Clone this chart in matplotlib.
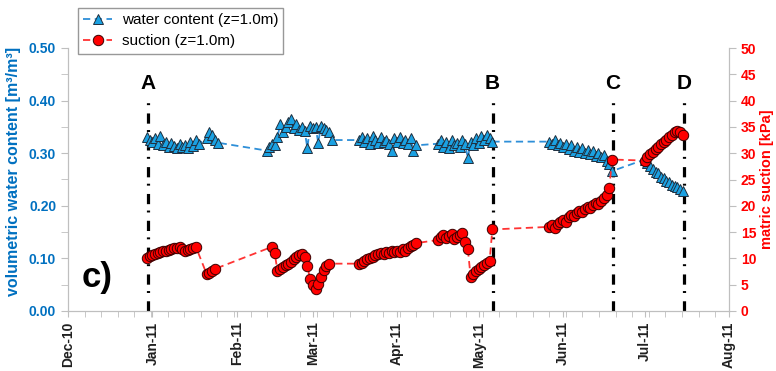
import matplotlib
matplotlib.use("Agg")
import matplotlib.pyplot as plt
import matplotlib.dates as mdates
from matplotlib.ticker import MultipleLocator, FixedLocator, FormatStrFormatter
import numpy as np
import pandas as pd

plt.rcParams['font.family'] = ['Liberation Sans', 'DejaVu Sans']

# water content at z=1.0m, daily readings per measuring period [m3/m3]
wc_starts = ['2010-12-30', '2011-01-21', '2011-02-12', '2011-03-18',
             '2011-04-16', '2011-05-27', '2011-07-01']
wc_values = [
    [0.330, 0.325, 0.322, 0.328, 0.318, 0.332, 0.315, 0.322, 0.312, 0.320,
     0.314, 0.310, 0.318, 0.312, 0.316, 0.310, 0.322, 0.314, 0.325, 0.318],
    [0.328, 0.340, 0.335, 0.325, 0.320],
    [0.305, 0.312, 0.318, 0.315, 0.330, 0.355, 0.340, 0.350, 0.360, 0.365,
     0.348, 0.355, 0.345, 0.350, 0.342, 0.310, 0.352, 0.348, 0.350, 0.320,
     0.352, 0.348, 0.345, 0.340, 0.325],
    [0.325, 0.330, 0.322, 0.328, 0.318, 0.332, 0.325, 0.320, 0.330, 0.322,
     0.326, 0.318, 0.305, 0.328, 0.322, 0.330, 0.320, 0.326, 0.318, 0.328,
     0.304, 0.315],
    [0.318, 0.325, 0.312, 0.322, 0.310, 0.326, 0.315, 0.320, 0.312, 0.325,
     0.318, 0.290, 0.322, 0.315, 0.328, 0.320, 0.332, 0.325, 0.335, 0.328,
     0.322],
    [0.322, 0.318, 0.325, 0.315, 0.320, 0.312, 0.318, 0.308, 0.315, 0.305,
     0.312, 0.302, 0.310, 0.300, 0.306, 0.298, 0.304, 0.295, 0.300, 0.292,
     0.296, 0.285, 0.280, 0.266],
    [0.288, 0.282, 0.275, 0.270, 0.265, 0.262, 0.255, 0.252, 0.248, 0.245,
     0.240, 0.238, 0.235, 0.232, 0.228],
]

# matric suction at z=1.0m [kPa]
su_starts = ['2010-12-30', '2011-01-21', '2011-02-14', '2011-03-18',
             '2011-04-16', '2011-05-27', '2011-07-01']
su_values = [
    [10.0, 10.4, 10.7, 10.9, 11.1, 11.2, 11.4, 11.5, 11.6, 11.8,
     11.9, 12.0, 12.1, 11.7, 11.5, 11.6, 11.8, 12.0, 12.2],
    [7.0, 7.3, 7.6, 8.0],
    [12.2, 11.0, 7.6, 7.9, 8.3, 8.7, 9.0, 9.4, 9.8, 10.2,
     10.6, 10.9, 10.2, 8.6, 6.0, 5.0, 4.2, 5.2, 6.5, 7.8,
     8.6, 9.0],
    [9.0, 9.2, 9.5, 9.8, 10.0, 10.3, 10.6, 10.8, 11.0, 10.8,
     11.2, 11.0, 11.4, 11.2, 11.5, 11.3, 11.8, 11.5, 12.0, 12.3,
     12.6, 12.9],
    [13.5, 14.0, 14.5, 13.8, 14.2, 14.6, 13.6, 14.0, 14.4, 14.8,
     13.2, 11.8, 6.5, 7.0, 7.6, 8.0, 8.4, 8.8, 9.2, 9.6,
     15.5],
    [16.0, 16.3, 15.8, 16.6, 17.0, 17.3, 17.0, 17.8, 18.2, 18.0,
     18.6, 19.0, 18.8, 19.4, 19.8, 19.6, 20.2, 20.6, 20.4, 21.0,
     21.5, 22.0, 23.4, 28.8],
    [28.6, 29.2, 29.8, 30.3, 30.8, 31.2, 31.8, 32.2, 32.6, 33.1,
     33.5, 34.0, 34.3, 34.0, 33.5],
]

event_labels = ['A', 'B', 'C', 'D']
event_dates = ['2010-12-30 12:00', '2011-05-06 03:00', '2011-06-19 08:00', '2011-07-15 10:00']


def juntar(starts, values):
    fechas = []
    datos = []
    for s, vals in zip(starts, values):
        fechas.extend(pd.date_range(s, periods=len(vals), freq='D'))
        datos.extend(vals)
    return fechas, datos


wc_x, wc_y = juntar(wc_starts, wc_values)
su_x, su_y = juntar(su_starts, su_values)

blue = '#0070C0'
red = '#FF0000'
spine_col = '#BFBFBF'

fig = plt.figure(figsize=(7.76, 3.71), dpi=100)
ax = fig.add_axes([68 / 776, 1 - 311 / 371, 661 / 776, 263 / 371])
ax2 = ax.twinx()

# lineas de eventos A-D
for lab, d in zip(event_labels, event_dates):
    xd = mdates.date2num(pd.Timestamp(d))
    ax.axvline(xd, ymin=0, ymax=0.815, color='black', lw=2.3,
               linestyle=(0, (3.2, 2.6, 0.6, 2.0)), zorder=1)
    ax.text(xd, 0.865, lab, transform=ax.get_xaxis_transform(), ha='center',
            va='center', fontsize=15, fontweight='bold')

l1, = ax.plot(wc_x, wc_y, linestyle=(0, (4, 2.5)), color='#2E8FD8', lw=1.3,
              marker='^', markersize=7.5, markerfacecolor='#1BA1E2',
              markeredgecolor='#1F2F3F', markeredgewidth=0.7,
              label='water content (z=1.0m)', zorder=3)
l2, = ax2.plot(su_x, su_y, linestyle=(0, (4, 2.5)), color='#FF3333', lw=1.3,
               marker='o', markersize=7.5, markerfacecolor='#FF0000',
               markeredgecolor='#3A0000', markeredgewidth=0.7,
               label='suction (z=1.0m)', zorder=3)
ax.patch.set_visible(False)
ax2.patch.set_visible(False)

ax.set_xlim(mdates.date2num(pd.Timestamp('2010-12-01')),
            mdates.date2num(pd.Timestamp('2011-08-01')))
ax.set_ylim(0, 0.5)
ax2.set_ylim(0, 50)

ax.xaxis.set_major_locator(mdates.MonthLocator())
ax.xaxis.set_major_formatter(mdates.DateFormatter('%b-%y'))
x0 = mdates.date2num(pd.Timestamp('2010-12-01'))
ax.xaxis.set_minor_locator(FixedLocator(np.arange(x0, x0 + 244, 6.1)))
for t in ax.get_xticklabels():
    t.set_rotation(90)
    t.set_fontweight('bold')
    t.set_fontsize(10)

ax.yaxis.set_major_locator(MultipleLocator(0.1))
ax.yaxis.set_minor_locator(MultipleLocator(0.05))
ax.yaxis.set_major_formatter(FormatStrFormatter('%.2f'))
ax2.yaxis.set_major_locator(MultipleLocator(5))

ax.tick_params(axis='y', which='both', colors=spine_col, labelcolor=blue,
               labelsize=10, length=5, direction='out')
ax.tick_params(axis='x', which='both', colors=spine_col, labelcolor='#202020',
               labelsize=10, length=4, direction='out')
ax2.tick_params(axis='y', colors=spine_col, labelcolor=red, labelsize=10,
                length=5, direction='out')
for t in ax.get_yticklabels():
    t.set_fontweight('bold')
for t in ax2.get_yticklabels():
    t.set_fontweight('bold')

for a in (ax, ax2):
    a.spines['top'].set_visible(False)
    for s in ('left', 'right', 'bottom'):
        a.spines[s].set_color(spine_col)

ax.set_ylabel('volumetric water content [m³/m³]', color=blue,
              fontweight='bold', fontsize=11.5)
ax.yaxis.set_label_coords(-0.071, 0.53)
ax2.set_ylabel('matric suction [kPa]', color=red, fontweight='bold', fontsize=10.5)
ax2.yaxis.set_label_coords(1.047, 0.5)

fig.text(97 / 776, 1 - 277 / 371, 'c)', fontsize=25, fontweight='bold',
         ha='center', va='center')

leg = fig.legend(handles=[l1, l2], loc='upper left',
                 bbox_to_anchor=(78 / 776, 1 - 8 / 371), borderaxespad=0,
                 fontsize=11, frameon=True, fancybox=False, handlelength=1.9,
                 handletextpad=0.6, borderpad=0.35, labelspacing=0.45)
leg.get_frame().set_edgecolor('#7F7F7F')
leg.get_frame().set_linewidth(1.0)

fig.savefig('out.png', dpi=100)
